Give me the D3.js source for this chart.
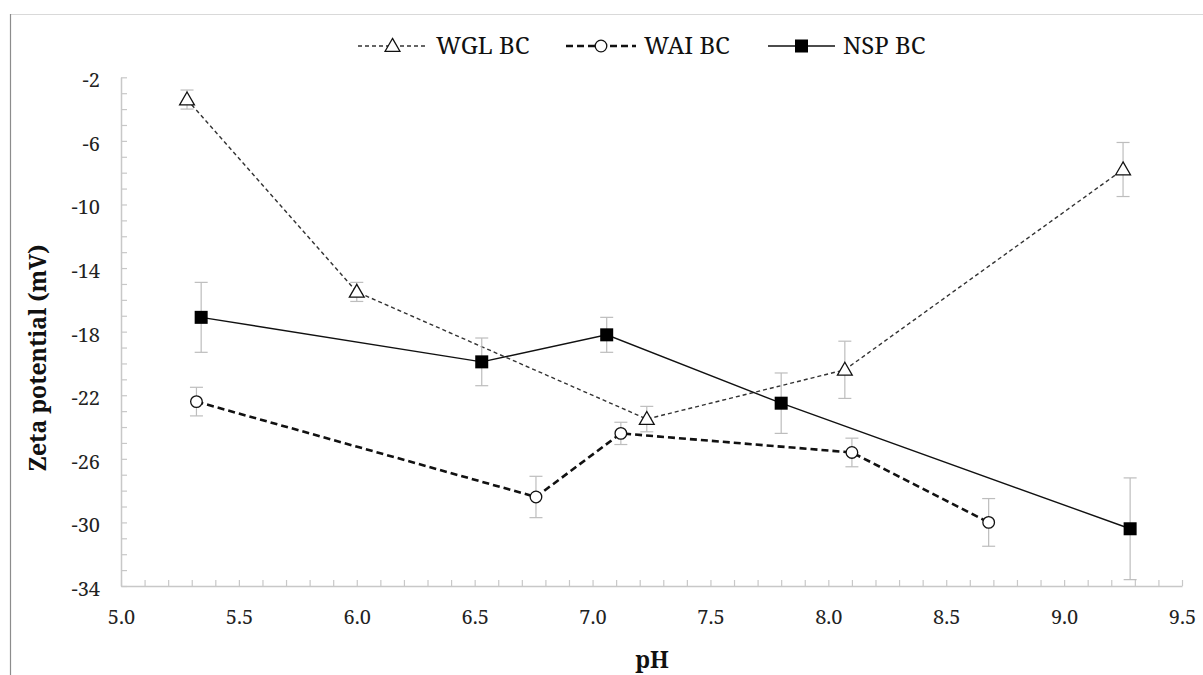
<!DOCTYPE html>
<html>
<head>
<meta charset="utf-8">
<script src="https://cdn.jsdelivr.net/npm/d3@7"></script>
<style>
  html, body { margin: 0; padding: 0; background: #fff; }
</style>
</head>
<body>
<svg id="chart" width="1203" height="675"></svg>
<script>
// Zeta potential of three biochars versus pH (mean ± error)
const seriesNames = ["WGL BC", "WAI BC", "NSP BC"];

const wglPH   = [5.28, 6.00, 7.23, 8.07, 9.25];
const wglZeta = [-3.4, -15.5, -23.5, -20.4, -7.8];
const wglErr  = [0.6, 0.6, 0.8, 1.8, 1.7];

const waiPH   = [5.32, 6.76, 7.12, 8.10, 8.68];
const waiZeta = [-22.4, -28.4, -24.4, -25.6, -30.0];
const waiErr  = [0.9, 1.3, 0.7, 0.9, 1.5];

const nspPH   = [5.34, 6.53, 7.06, 7.80, 9.28];
const nspZeta = [-17.1, -19.9, -18.2, -22.5, -30.4];
const nspErr  = [2.2, 1.5, 1.1, 1.9, 3.2];

const xTickValues = [5.0, 5.5, 6.0, 6.5, 7.0, 7.5, 8.0, 8.5, 9.0, 9.5];
const yTickValues = [-2, -6, -10, -14, -18, -22, -26, -30, -34];

const xTitle = "pH";
const yTitle = "Zeta potential (mV)";

const FONT = "Noto Serif";

const svg = d3.select("#chart");

// frame of the chart area
svg.append("line").attr("x1", 10).attr("x2", 1203).attr("y1", 14.5).attr("y2", 14.5)
  .attr("stroke", "#d9d9d9").attr("stroke-width", 1.2);
svg.append("line").attr("x1", 10.5).attr("x2", 10.5).attr("y1", 14).attr("y2", 675)
  .attr("stroke", "#8c8c8c").attr("stroke-width", 1.2);

const x = d3.scaleLinear().domain([5.0, 9.5]).range([121, 1182]);
const y = d3.scaleLinear().domain([-34, -2]).range([586, 77.3]);

const axisColor = "#c8c8c8";

// x axis: minor ticks every 0.1, drawn inward
const xAxis = d3.axisTop(x)
  .tickValues(d3.range(50, 96).map(v => v / 10))
  .tickSize(6).tickSizeOuter(0).tickFormat("");
const gx = svg.append("g").attr("transform", `translate(0,${y(-34)})`).call(xAxis);
gx.select(".domain").attr("stroke", axisColor).attr("stroke-width", 1.5);
gx.selectAll(".tick line").attr("stroke", axisColor).attr("stroke-width", 1.2);

// y axis: minor ticks every 1 unit, drawn inward
const yAxis = d3.axisRight(y)
  .tickValues(d3.range(-34, -1))
  .tickSize(6).tickSizeOuter(0).tickFormat("");
const gy = svg.append("g").attr("transform", `translate(${x(5.0)},0)`).call(yAxis);
gy.select(".domain").attr("stroke", axisColor).attr("stroke-width", 1.5);
gy.selectAll(".tick line").attr("stroke", axisColor).attr("stroke-width", 1.2);

// tick labels
const xLab = d3.axisBottom(x).tickValues(xTickValues).tickSize(0).tickPadding(0)
  .tickFormat(d3.format(".1f"));
const gxl = svg.append("g").attr("transform", `translate(0,${y(-34) + 38})`).call(xLab);
gxl.select(".domain").remove();
gxl.selectAll("text").attr("font-family", FONT).attr("font-size", 20)
  .attr("fill", "#222").attr("dy", 0);

const yLab = d3.axisLeft(y).tickValues(yTickValues).tickSize(0).tickPadding(0)
  .tickFormat(d => d3.format("d")(d).replace("−", "-"));
const gyl = svg.append("g").attr("transform", `translate(100,3)`).call(yLab);
gyl.select(".domain").remove();
gyl.selectAll("text").attr("font-family", FONT).attr("font-size", 20)
  .attr("fill", "#222");

// axis titles
svg.append("text").attr("x", 652).attr("y", 668).attr("text-anchor", "middle")
  .attr("font-family", FONT)
  .attr("font-weight", "bold").attr("font-size", 23).attr("fill", "#111").text(xTitle);
svg.append("text").attr("transform", `translate(46,358) rotate(-90)`).attr("text-anchor", "middle")
  .attr("font-family", FONT)
  .attr("font-weight", "bold").attr("font-size", 23).attr("fill", "#111").text(yTitle);

// series definitions
const series = [
  { name: seriesNames[0], ph: wglPH, z: wglZeta, e: wglErr, marker: "triangle",
    stroke: "#333", width: 1.4, dash: "4,3" },
  { name: seriesNames[1], ph: waiPH, z: waiZeta, e: waiErr, marker: "circle",
    stroke: "#111", width: 2.6, dash: "7,4" },
  { name: seriesNames[2], ph: nspPH, z: nspZeta, e: nspErr, marker: "square",
    stroke: "#111", width: 1.4, dash: null }
];

const line = d3.line().x(d => x(d[0])).y(d => y(d[1]));

function drawMarker(g, type, cx, cy) {
  if (type === "triangle") {
    g.append("path")
      .attr("d", d3.symbol().type(d3.symbolTriangle).size(95)())
      .attr("transform", `translate(${cx},${cy + 1})`)
      .attr("fill", "#fff").attr("stroke", "#111").attr("stroke-width", 1.3);
  } else if (type === "circle") {
    g.append("circle").attr("cx", cx).attr("cy", cy).attr("r", 5.8)
      .attr("fill", "#fff").attr("stroke", "#111").attr("stroke-width", 1.3);
  } else {
    g.append("rect").attr("x", cx - 6.5).attr("y", cy - 6.5).attr("width", 13).attr("height", 13)
      .attr("fill", "#000");
  }
}

series.forEach(s => {
  const pts = s.ph.map((p, i) => [p, s.z[i], s.e[i]]);
  const g = svg.append("g");
  // error bars
  pts.forEach(d => {
    const cx = x(d[0]);
    const y1 = y(d[1] + d[2]), y2 = y(d[1] - d[2]);
    g.append("line").attr("x1", cx).attr("x2", cx).attr("y1", y1).attr("y2", y2)
      .attr("stroke", "#bdbdbd").attr("stroke-width", 1.2);
    [y1, y2].forEach(yy => g.append("line").attr("x1", cx - 6.5).attr("x2", cx + 6.5)
      .attr("y1", yy).attr("y2", yy).attr("stroke", "#bdbdbd").attr("stroke-width", 1.2));
  });
  g.append("path").datum(pts).attr("d", line).attr("fill", "none")
    .attr("stroke", s.stroke).attr("stroke-width", s.width)
    .attr("stroke-dasharray", s.dash);
  pts.forEach(d => drawMarker(g, s.marker, x(d[0]), y(d[1])));
});

// legend
const legendItems = [
  { x0: 358, x1: 427, tx: 436 },
  { x0: 566, x1: 636, tx: 644 },
  { x0: 768, x1: 835, tx: 843 }
];
const legendY = 46;
series.forEach((s, i) => {
  const L = legendItems[i];
  const g = svg.append("g");
  g.append("line").attr("x1", L.x0).attr("x2", L.x1).attr("y1", legendY).attr("y2", legendY)
    .attr("stroke", s.stroke).attr("stroke-width", s.width).attr("stroke-dasharray", s.dash);
  drawMarker(g, s.marker, (L.x0 + L.x1) / 2, legendY);
  g.append("text").attr("x", L.tx).attr("y", legendY + 8).attr("font-size", 24)
    .attr("font-family", FONT)
    .attr("fill", "#111").text(s.name);
});
</script>
</body>
</html>
